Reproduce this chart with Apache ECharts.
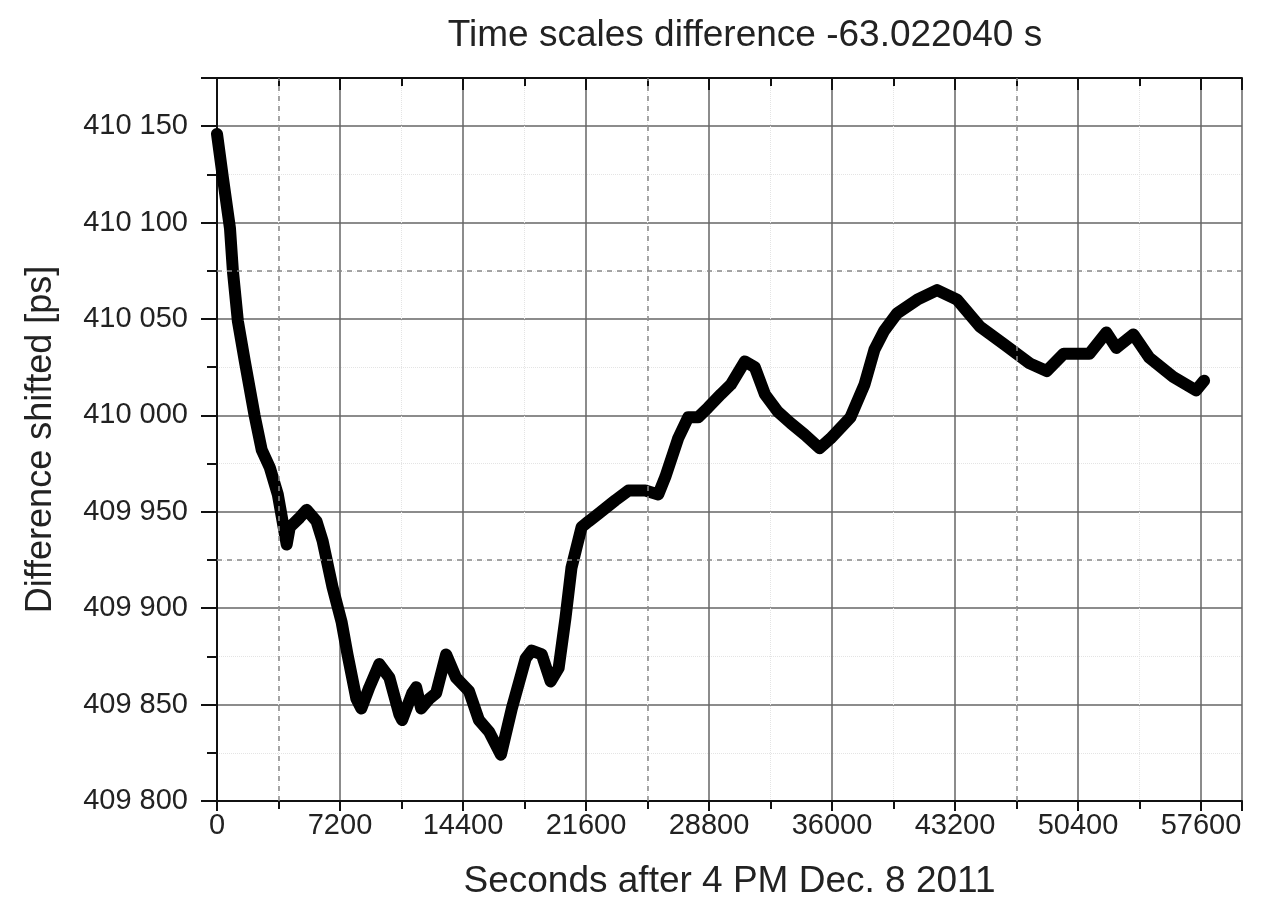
<!DOCTYPE html>
<html>
<head>
<meta charset="utf-8">
<script src="https://cdn.jsdelivr.net/npm/echarts@6/dist/echarts.min.js"></script>
<style>
    html, body {margin: 0; padding: 0; background: #fff;}
    #chart {width: 1272px; height: 897px;}
</style>
</head>
<body>
<div id="chart"></div>
<script>
// seconds after 4 PM
const timeSec = [0, 350, 760, 930, 1220, 1630, 2200, 2620, 3090, 3560, 4080, 4260, 4840, 5250, 5830, 6180,
    6760, 7290, 7640, 8160, 8450, 8920, 9500, 10090, 10670, 10840, 11430, 11660, 11950, 12420, 12830,
    13410, 13990, 14750, 15330, 15920, 16620, 17260, 18070, 18420, 19010, 19530, 20000, 20400, 20750,
    21340, 21750, 22330, 23320, 24080, 25070, 25830, 26240, 26990, 27580, 28160, 28740, 29500, 30080,
    30900, 31480, 32070, 32820, 33580, 34400, 35270, 35910, 37080, 37900, 38480, 39060, 39820, 40990,
    42150, 43320, 44660, 46060, 47570, 48570, 49560, 51070, 52060, 52650, 53640, 54570, 55970, 57310, 57780];
// difference shifted [ps]
const diffPs = [410146, 410123, 410097, 410075, 410049, 410028, 410000, 409982, 409973, 409959, 409933, 409942,
    409947, 409951, 409945, 409935, 409911, 409893, 409876, 409853, 409848, 409859, 409871, 409864, 409845,
    409842, 409856, 409859, 409848, 409853, 409856, 409876, 409864, 409857, 409842, 409836, 409824, 409848,
    409874, 409878, 409876, 409862, 409869, 409895, 409921, 409942, 409945, 409949, 409956, 409961, 409961,
    409959, 409968, 409988, 409999, 409999, 410004, 410011, 410016, 410028, 410025, 410011, 410002, 409996,
    409990, 409983, 409988, 409999, 410016, 410034, 410044, 410053, 410060, 410065, 410060, 410046, 410037,
    410027, 410023, 410032, 410032, 410043, 410035, 410042, 410030, 410020, 410013, 410018];

// the darker dashed grid lines
const accentX = [3600, 25200, 46800];
const accentY = [410075, 409925];

const xMin = 0, xMax = 60000, xStep = 7200;
const yMin = 409800, yMax = 410175, yStep = 50;

const font = 'Liberation Sans, Arial, sans-serif';

let chart = echarts.init(document.getElementById('chart'));

let points = timeSec.map((t, i) => [t, diffPs[i]]);
let marks = accentY.map(v => ({yAxis: v})).concat(accentX.map(v => ({xAxis: v})));

let option = {
    animation: false,
    backgroundColor: '#fff',
    title: {
        text: 'Time scales difference -63.022040 s',
        left: 740,
        textAlign: 'center',
        top: 12,
        textStyle: {fontFamily: font, fontSize: 37, fontWeight: 'normal', color: '#222'}
    },
    grid: {left: 217, right: 30, top: 78, bottom: 96, outerBoundsMode: 'none', containLabel: false},
    xAxis: [
        {
            type: 'value',
            min: xMin,
            max: xMax,
            interval: xStep,
            name: 'Seconds after 4 PM Dec. 8 2011',
            nameLocation: 'middle',
            nameGap: 62,
            nameTextStyle: {fontFamily: font, fontSize: 37, color: '#222'},
            axisLine: {lineStyle: {color: '#111', width: 2}},
            axisTick: {length: 10, lineStyle: {color: '#111', width: 2}},
            minorTick: {show: true, splitNumber: 2, length: 8, lineStyle: {color: '#111', width: 2}},
            axisLabel: {
                fontFamily: font, fontSize: 29, color: '#222', margin: 10, showMaxLabel: false,
                formatter: v => String(v)
            },
            splitLine: {show: true, lineStyle: {color: '#666', width: 1.5}},
            minorSplitLine: {show: true, lineStyle: {color: '#e4e4e4', width: 1, type: 'dotted'}}
        },
        {
            type: 'value',
            position: 'top',
            min: xMin,
            max: xMax,
            interval: xStep,
            axisLine: {show: true, lineStyle: {color: '#111', width: 2}},
            axisTick: {show: true, inside: true, length: 12, lineStyle: {color: '#111', width: 2}},
            minorTick: {show: true, splitNumber: 2, length: 8, lineStyle: {color: '#111', width: 2}},
            axisLabel: {show: false},
            splitLine: {show: false}
        }
    ],
    yAxis: [
        {
            type: 'value',
            min: yMin,
            max: yMax,
            interval: yStep,
            name: 'Difference shifted [ps]',
            nameLocation: 'middle',
            nameGap: 158,
            nameTextStyle: {fontFamily: font, fontSize: 36, color: '#222'},
            axisLine: {show: true, lineStyle: {color: '#111', width: 2}},
            axisTick: {show: true, length: 16, lineStyle: {color: '#111', width: 2}},
            minorTick: {show: true, splitNumber: 2, length: 10, lineStyle: {color: '#111', width: 2}},
            axisLabel: {
                fontFamily: font, fontSize: 29, color: '#222', margin: 29, showMaxLabel: false,
                formatter: v => String(v).replace(/(\d{3})$/, ' $1')
            },
            splitLine: {show: true, lineStyle: {color: '#666', width: 1.5}},
            minorSplitLine: {show: true, lineStyle: {color: '#e4e4e4', width: 1, type: 'dotted'}}
        },
        {
            type: 'value',
            position: 'right',
            min: yMin,
            max: yMax,
            interval: yStep,
            axisLine: {show: true, lineStyle: {color: '#111', width: 2}},
            axisTick: {show: true, inside: true, length: 12, lineStyle: {color: '#111', width: 2}},
            minorTick: {show: true, splitNumber: 2, length: 8, lineStyle: {color: '#111', width: 2}},
            axisLabel: {show: false},
            splitLine: {show: false}
        }
    ],
    series: [
        {
            type: 'line',
            z: 1,
            data: [],
            markLine: {
                silent: true,
                symbol: 'none',
                label: {show: false},
                lineStyle: {color: '#888', width: 1.5, type: [5, 5]},
                data: marks
            }
        },
        {
            name: 'difference',
            type: 'line',
            z: 3,
            data: points,
            showSymbol: false,
            smooth: false,
            lineStyle: {color: '#000', width: 12, join: 'round', cap: 'round'}
        }
    ]
};

chart.setOption(option);
</script>
</body>
</html>
